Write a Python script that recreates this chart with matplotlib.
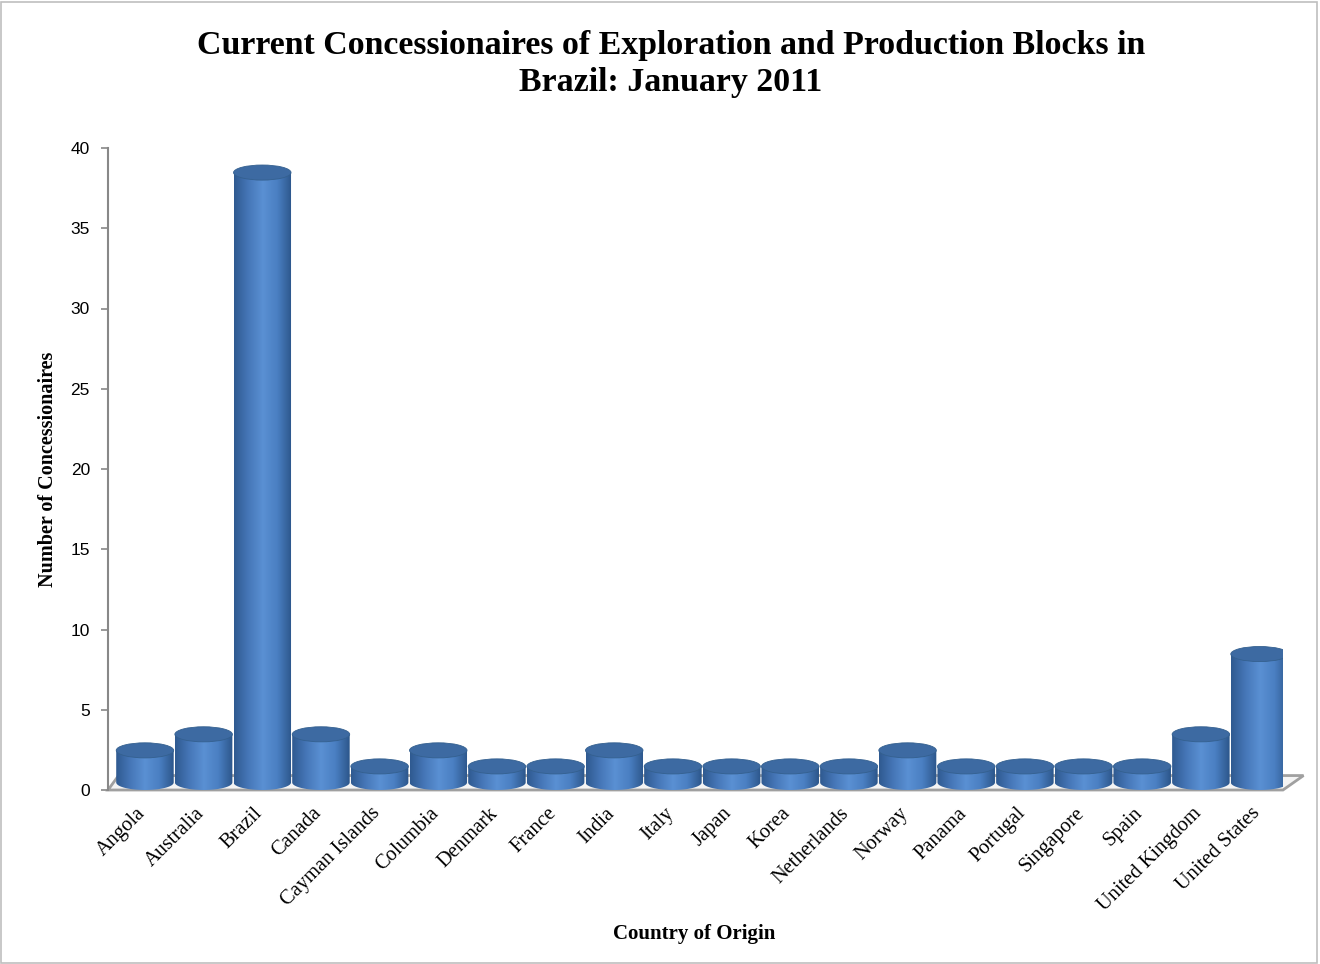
import numpy as np
import matplotlib.pyplot as plt
import matplotlib.transforms as mtransforms
from matplotlib.patches import Ellipse, PathPatch, Polygon, Rectangle
from matplotlib.path import Path
from matplotlib.colors import LinearSegmentedColormap

### data
countries = ['Angola', 'Australia', 'Brazil', 'Canada', 'Cayman Islands', 'Columbia',
             'Denmark', 'France', 'India', 'Italy', 'Japan', 'Korea', 'Netherlands',
             'Norway', 'Panama', 'Portugal', 'Singapore', 'Spain', 'United Kingdom',
             'United States']
counts = [2, 3, 38, 3, 1, 2, 1, 1, 2, 1, 1, 1, 1, 2, 1, 1, 1, 1, 3, 8]
yticks = [0, 5, 10, 15, 20, 25, 30, 35, 40]

title = 'Current Concessionaires of Exploration and Production Blocks in\nBrazil: January 2011'
serif = 'Liberation Serif'
sans = 'Liberation Sans'

fig = plt.figure(figsize=(13.2, 9.64), dpi=100)
ax = fig.add_axes([108 / 1320, 174 / 964, 1175 / 1320, 642 / 964])

# cylinder styling
bar_w = 0.98
cap_h = 0.47   # half height of the ellipse, y units
grad = LinearSegmentedColormap.from_list(
    'cyl', ['#2f5a90', '#4677b8', '#5a90d3', '#4a7fc2', '#2c568a'])
grad_img = np.linspace(0, 1, 256).reshape(1, -1)
top_col = '#3d6aa2'

x = np.arange(len(countries))

# floor
floor = Polygon([(-0.63, 0), (19.4, 0), (19.75, 0.9), (-0.45, 0.9)], closed=True,
                facecolor='#f4f4f4', edgecolor='#a0a0a0', lw=2, zorder=1, clip_on=False)
ax.add_patch(floor)

for xi, v in zip(x, counts):
    l, r = xi - bar_w / 2, xi + bar_w / 2
    t = np.linspace(np.pi, 2 * np.pi, 40)
    arc = np.column_stack([xi + bar_w / 2 * np.cos(t), cap_h + cap_h * np.sin(t)])
    verts = np.vstack([[[l, v + cap_h]], arc, [[r, v + cap_h]], [[l, v + cap_h]]])
    codes = [Path.MOVETO] + [Path.LINETO] * (len(verts) - 2) + [Path.CLOSEPOLY]
    body = PathPatch(Path(verts, codes), facecolor='none', edgecolor='none', zorder=2)
    ax.add_patch(body)
    im = ax.imshow(grad_img, cmap=grad, extent=(l, r, 0, v + cap_h), aspect='auto',
                   origin='lower', zorder=2, interpolation='bilinear')
    im.set_clip_path(body)
    ax.add_patch(Ellipse((xi, v + cap_h), bar_w, 2 * cap_h, facecolor=top_col,
                         edgecolor='#34608f', lw=0.6, zorder=3))

ax.set_xlim(-0.63, 19.4)
ax.set_ylim(0, 40)
ax.set_aspect('auto')

ax.set_yticks(yticks)
ax.set_yticklabels([str(t) for t in yticks], fontsize=12.5, family=sans)
ax.set_xticks(x)
ax.set_xticklabels(countries, rotation=45, ha='right', va='top', rotation_mode='anchor',
                   fontsize=14.8, family=serif)
ax.tick_params(axis='x', length=0, pad=10)
ax.tick_params(axis='y', length=5, color='#888888', width=1.2, pad=8)
shift = mtransforms.ScaledTranslation(-9 / 100, 0, fig.dpi_scale_trans)
for lab in ax.get_xticklabels():
    lab.set_transform(lab.get_transform() + shift)

for s in ['top', 'right']:
    ax.spines[s].set_visible(False)
ax.spines['left'].set_color('#888888')
ax.spines['left'].set_linewidth(1.5)
ax.spines['bottom'].set_visible(False)

ax.set_ylabel('Number of Concessionaires', fontsize=14.5, family=serif, fontweight='bold',
              labelpad=9)
fig.text(694 / 1320, 1 - 934 / 964, 'Country of Origin', fontsize=15, family=serif,
         fontweight='bold', ha='center', va='center')
fig.text(671 / 1320, 1 - 64 / 964, title, fontsize=24.4, family=serif, fontweight='bold',
         ha='center', va='center', linespacing=1.25)

# chart border
fig.patches.append(Rectangle((0.001, 0.001), 0.997, 0.997, transform=fig.transFigure,
                             fill=False, edgecolor='#bfbfbf', lw=1.2))

fig.savefig('out.png', dpi=100)
